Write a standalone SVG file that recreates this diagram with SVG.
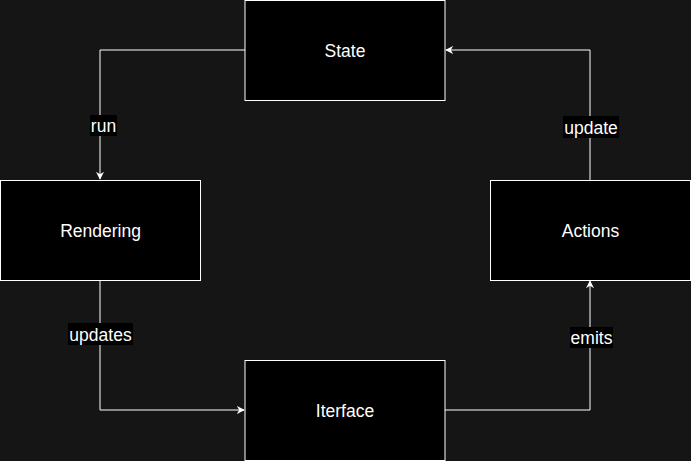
<svg xmlns="http://www.w3.org/2000/svg" width="691" height="461" viewBox="0 0 691 461">
<defs>
<style>
.node rect{fill:#000;stroke:#fff;stroke-width:1}
.node text{fill:#fff;font-family:"Liberation Sans",Arial,sans-serif;font-size:17.5px;text-anchor:middle;dominant-baseline:central}
.edge{fill:none;stroke:#fff;stroke-width:1}
.lbl rect{fill:#000}
.lbl text{fill:#fff;font-family:"Liberation Sans",Arial,sans-serif;font-size:17.5px;text-anchor:middle;dominant-baseline:central}
</style>
<marker id="arr" viewBox="0 0 10 10" refX="9" refY="5" markerWidth="8" markerHeight="8" markerUnits="userSpaceOnUse" orient="auto">
<path d="M0,0 L10,5 L0,10 L3,5 Z" fill="#fff"/>
</marker>
</defs>
<rect width="691" height="461" fill="#151515"/>
<g id="connectors">
<path class="edge" d="M245,50 H100 V179" marker-end="url(#arr)"/>
<path class="edge" d="M100,280 V410 H244" marker-end="url(#arr)"/>
<path class="edge" d="M445,410 H590 V281" marker-end="url(#arr)"/>
<path class="edge" d="M590,180 V50 H446" marker-end="url(#arr)"/>
<g class="lbl"><rect x="90" y="115" width="27" height="21"/><text x="103.5" y="126">run</text></g>
<g class="lbl"><rect x="68" y="323" width="65" height="22"/><text x="100.5" y="334.5">updates</text></g>
<g class="lbl"><rect x="570" y="327" width="43" height="21"/><text x="591.5" y="338">emits</text></g>
<g class="lbl"><rect x="563" y="116" width="56" height="22"/><text x="591" y="127.5">update</text></g>
</g>
<g id="state" class="node"><rect x="245" y="0.5" width="200" height="100"/><text x="345" y="50.5">State</text></g>
<g id="rendering" class="node"><rect x="0.5" y="180.5" width="200" height="100"/><text x="100.5" y="230.5">Rendering</text></g>
<g id="actions" class="node"><rect x="490.5" y="180.5" width="200" height="100"/><text x="590.5" y="230.5">Actions</text></g>
<g id="iterface" class="node"><rect x="245" y="360.5" width="200" height="100"/><text x="345" y="410.5">Iterface</text></g>
</svg>
